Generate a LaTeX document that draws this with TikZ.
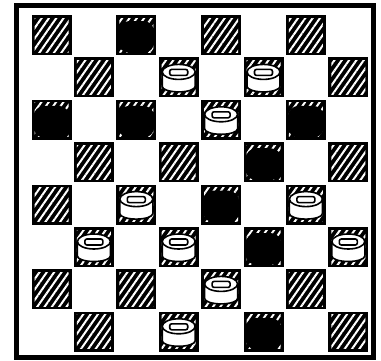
\documentclass[tikz,border=0pt]{standalone}
\usetikzlibrary{patterns.meta}
\tikzset{
  darksq/.style={fill=black},
  hatchin/.style={pattern={Lines[angle=55,distance=6pt,line width=2pt]}, pattern color=white},
  boardframe/.style={draw=black, line width=5pt},
  whitepiece/.pic={
    \path[fill=white, draw=black, line width=1.6pt]
      (-16.5,-5) -- (-16.5,9) arc[start angle=180,end angle=360,x radius=16.5pt,y radius=5.5pt] -- (16.5,-5) -- cycle;
    \path[fill=white, draw=black, line width=1.6pt] (0,-5.5) ellipse[x radius=16.5pt,y radius=7.5pt];
    \path[fill=white, draw=black, line width=1.6pt, rounded corners=2pt] (-9,-8) rectangle (9,-2);
  },
  blackpiece/.pic={
    \path[fill=black, rounded corners=11pt] (-18,-14) rectangle (18,18);
  }
}
\begin{document}
\begin{tikzpicture}[x=1pt,y=-1pt]
\useasboundingbox (0,0) rectangle (381,360);
\fill[white] (0,0) rectangle (381,360);
\draw[boardframe] (16,5) rectangle (373,357);
% dark squares
\foreach \r in {0,...,7}{
  \foreach \c in {0,...,7}{
    \pgfmathtruncatemacro{\parity}{mod(\r+\c,2)}
    \ifnum\parity=0
      \path[darksq] ({51.5+42.4*\c-20},{35+42.4*\r-20}) rectangle ++(40,40);
      \path[hatchin] ({51.5+42.4*\c-17},{35+42.4*\r-17}) rectangle ++(34,34);
    \fi
  }
}
% black pieces
\foreach \c/\r in {2/0, 0/2, 2/2, 6/2, 5/3, 4/4, 5/5, 5/7}{
  \pic at ({51.5+42.4*\c},{35+42.4*\r}) {blackpiece};
}
\fill[black] ({51.5+42.4*6+7},{35+42.4*2+16}) circle[radius=3pt];
% white pieces
\foreach \c/\r in {3/1, 5/1, 4/2, 2/4, 6/4, 1/5, 3/5, 7/5, 4/6, 3/7}{
  \pic at ({51.5+42.4*\c},{35+42.4*\r}) {whitepiece};
}
\end{tikzpicture}
\end{document}
